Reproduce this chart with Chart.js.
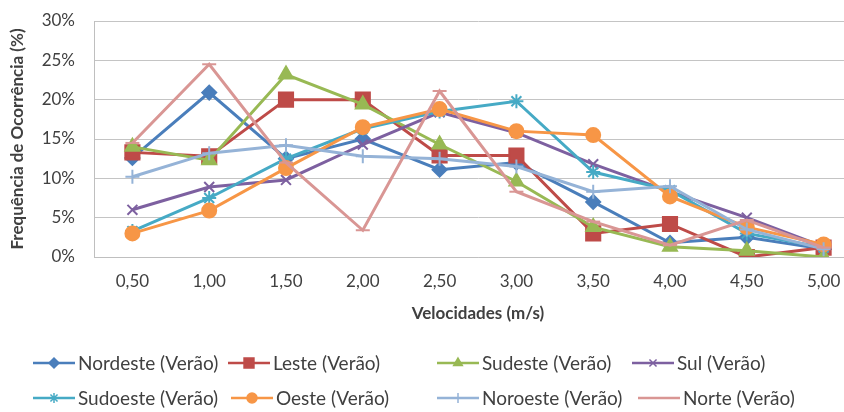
<!DOCTYPE html>
<html>
<head>
<meta charset="utf-8">
<script src="https://cdn.jsdelivr.net/npm/chart.js@4/dist/chart.umd.min.js"></script>
<style>
  html, body { margin: 0; padding: 0; background: #fff; overflow: hidden; }
  #wrap { position: relative; width: 874px; height: 412px; }
</style>
</head>
<body>
<div id="wrap"><canvas id="chart"></canvas></div>
<script>
const velocidades = ['0,50', '1,00', '1,50', '2,00', '2,50', '3,00', '3,50', '4,00', '4,50', '5,00']
const yTicks = [0, 5, 10, 15, 20, 25, 30]

const nordeste = [12.6, 20.9, 12.5, 15.0, 11.1, 12.0, 7.0, 1.8, 2.5, 1.0]
const leste    = [13.3, 12.8, 20.0, 20.0, 12.9, 12.9, 3.0, 4.2, 0.0, 1.2]
const sudeste  = [14.0, 12.3, 23.2, 19.4, 14.3, 9.6, 3.8, 1.3, 0.8, 0.0]
const sul      = [6.0, 8.9, 9.8, 14.3, 18.4, 15.8, 11.8, 8.3, 5.0, 1.3]
const sudoeste = [3.3, 7.5, 12.5, 16.3, 18.5, 19.8, 10.8, 8.5, 3.0, 1.2]
const oeste    = [3.0, 5.9, 11.3, 16.5, 18.8, 16.0, 15.5, 7.7, 3.8, 1.6]
const noroeste = [10.2, 13.2, 14.2, 12.8, 12.5, 11.5, 8.3, 9.0, 3.5, 1.0]
const norte    = [14.5, 24.5, 12.0, 3.4, 21.1, 8.3, 4.5, 1.5, 4.7, 1.2]

const FONT = 'Lato, "Open Sans", sans-serif'
const TEXT = '#404040'

function serie(label, data, color, style, radius) {
  return {
    label: label,
    data: data,
    borderColor: color,
    backgroundColor: color,
    pointBackgroundColor: color,
    pointBorderColor: color,
    borderWidth: 3,
    pointStyle: style,
    pointRadius: radius,
    pointBorderWidth: 2,
    tension: 0
  }
}

const datasets = [
  serie('Nordeste (Verão)', nordeste, '#4A7EBB', 'rectRot', 7),
  serie('Leste (Verão)', leste, '#BE4B48', 'rect', 10),
  serie('Sudeste (Verão)', sudeste, '#98B954', 'triangle', 8),
  serie('Sul (Verão)', sul, '#7D60A0', 'crossRot', 7),
  serie('Sudoeste (Verão)', sudoeste, '#46AAC5', 'star', 7),
  serie('Oeste (Verão)', oeste, '#F79646', 'circle', 7),
  serie('Noroeste (Verão)', noroeste, '#95B3D7', 'cross', 7),
  serie('Norte (Verão)', norte, '#D99694', 'line', 7)
]
// later series drawn on top, as in the original
datasets.forEach((d, i) => { d.order = datasets.length - i })

// legend laid out in rows like the spreadsheet one
const legendRows = [
  { y: 363, starts: [33, 228, 437, 632] },
  { y: 398, starts: [33, 231, 437, 638] }
]

const excelLegend = {
  id: 'excelLegend',
  afterDraw(chart) {
    const ctx = chart.ctx
    const sets = chart.data.datasets
    ctx.save()
    ctx.font = '19px ' + FONT
    ctx.textBaseline = 'middle'
    ctx.textAlign = 'left'
    sets.forEach((ds, i) => {
      const row = legendRows[Math.floor(i / 4)]
      const x0 = row.starts[i % 4]
      const y = row.y
      ctx.strokeStyle = ds.borderColor
      ctx.fillStyle = ds.borderColor
      ctx.lineWidth = 2.5
      ctx.beginPath()
      ctx.moveTo(x0, y)
      ctx.lineTo(x0 + 42, y)
      ctx.stroke()
      if (Chart.helpers && Chart.helpers.drawPoint) {
        ctx.lineWidth = 1.5
        Chart.helpers.drawPoint(ctx, {
          pointStyle: ds.pointStyle,
          radius: ds.pointStyle === 'rect' ? 7 : 5,
          borderWidth: 1.5,
          rotation: 0
        }, x0 + 21, y)
      }
      ctx.fillStyle = TEXT
      ctx.fillText(ds.label, x0 + 45, y + 1)
    })
    ctx.restore()
  }
}

new Chart(document.getElementById('chart'), {
  type: 'line',
  data: {
    labels: velocidades,
    datasets: datasets
  },
  plugins: [excelLegend],
  options: {
    responsive: true,
    maintainAspectRatio: false,
    animation: false,
    layout: {
      padding: { top: 21, bottom: 87, left: 0, right: 2 }
    },
    plugins: {
      legend: { display: false },
      tooltip: { enabled: false }
    },
    scales: {
      x: {
        offset: true,
        grid: { display: false, drawTicks: false },
        border: { display: true, color: '#bfbfbf', width: 1 },
        ticks: {
          color: TEXT,
          font: { family: FONT, size: 17 },
          padding: 14,
          maxRotation: 0,
          autoSkip: false
        },
        title: {
          display: true,
          text: 'Velocidades (m/s)',
          color: TEXT,
          font: { family: FONT, size: 17, weight: 'bold' },
          padding: { top: 8, bottom: 1 }
        },
        afterFit(scale) { scale.height = 68 }
      },
      y: {
        min: 0,
        max: 30,
        afterBuildTicks(scale) {
          scale.ticks = yTicks.map(v => ({ value: v }))
        },
        grid: { color: '#c4c4c4', lineWidth: 1, drawTicks: false },
        border: { display: true, color: '#bfbfbf', width: 1 },
        ticks: {
          color: TEXT,
          font: { family: FONT, size: 17 },
          padding: 19,
          callback: v => v + '%'
        },
        title: {
          display: true,
          text: 'Frequência de Ocorrência (%)',
          color: TEXT,
          font: { family: FONT, size: 17, weight: 'bold' },
          padding: { top: 7, bottom: 0 }
        },
        afterFit(scale) {
          scale.width = 94
          scale.paddingTop = 0
          scale.paddingBottom = 0
        }
      }
    }
  }
})
</script>
</body>
</html>
